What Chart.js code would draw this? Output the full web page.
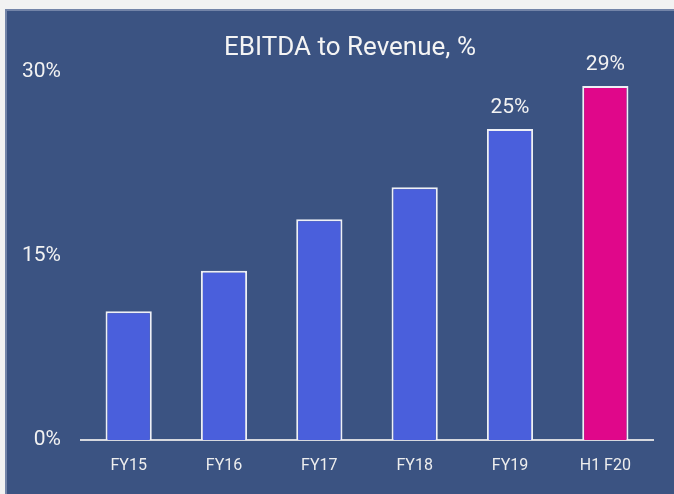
<!DOCTYPE html>
<html>
<head>
<meta charset="utf-8">
<script src="https://cdn.jsdelivr.net/npm/chart.js@4/dist/chart.umd.min.js"></script>
<style>
  html, body { margin: 0; padding: 0; background: #f2f2f2; width: 674px; height: 494px; overflow: hidden; }
  #panel { position: absolute; left: 5px; top: 9px; width: 720px; height: 520px; background: #3b5382; border-left: 2px solid #7384a8; border-top: 2px solid #7384a8; }
  #wrap { position: absolute; left: 0; top: 0; width: 686px; height: 483px; }
</style>
</head>
<body>
<div id="panel"><div id="wrap"><canvas id="c"></canvas></div></div>
<script>
const categories = ["FY15", "FY16", "FY17", "FY18", "FY19", "H1 F20"];
const ebitdaMargin = [10.5, 13.8, 18.0, 20.6, 25.35, 28.85];
const valueLabels = [null, null, null, null, "25%", "29%"];
const yTicks = [0, 15, 30];
const barColors = ["#4a5fdc", "#4a5fdc", "#4a5fdc", "#4a5fdc", "#4a5fdc", "#e0078a"];

const labelPlugin = {
  id: 'valueLabels',
  afterDatasetsDraw(chart) {
    const ctx = chart.ctx;
    const meta = chart.getDatasetMeta(0);
    ctx.save();
    ctx.font = '21px Roboto';
    ctx.fillStyle = '#f2f2f2';
    ctx.textAlign = 'center';
    ctx.textBaseline = 'alphabetic';
    meta.data.forEach((bar, i) => {
      if (valueLabels[i]) ctx.fillText(valueLabels[i], bar.x, bar.y - 16.5);
    });
    ctx.restore();
  }
};

new Chart(document.getElementById('c'), {
  type: 'bar',
  data: {
    labels: categories,
    datasets: [{
      data: ebitdaMargin,
      backgroundColor: barColors,
      borderColor: '#eef0f6',
      borderWidth: 2,
      barPercentage: 0.485,
      categoryPercentage: 1.0
    }]
  },
  options: {
    responsive: true,
    maintainAspectRatio: false,
    animation: false,
    layout: { padding: 0 },
    plugins: {
      legend: { display: false },
      tooltip: { enabled: false },
      title: {
        display: true,
        text: 'EBITDA to Revenue, %',
        color: '#f4f4f4',
        font: { family: 'Roboto', size: 26, weight: 'normal' },
        padding: { top: 21.4, bottom: 8.4 }
      }
    },
    scales: {
      x: {
        grid: { display: false, drawTicks: false },
        border: { display: true, color: '#d6d8de', width: 2 },
        ticks: { color: '#eeeeee', font: { family: 'Roboto', size: 16 }, padding: 16, maxRotation: 0 },
        afterFit: s => { s.height = 54; }
      },
      y: {
        min: 0, max: 30,
        afterBuildTicks: s => { s.ticks = yTicks.map(v => ({ value: v })); },
        grid: { display: false, drawTicks: false },
        border: { display: false },
        ticks: { color: '#f2f2f2', font: { family: 'Roboto', size: 21 }, padding: 20, callback: v => v + '%' },
        afterFit: s => { s.width = 74; }
      },
      yRight: {
        position: 'right',
        display: true,
        min: 0, max: 30,
        grid: { display: false, drawTicks: false },
        border: { display: false },
        ticks: { display: false },
        afterFit: s => { s.width = 40; }
      }
    }
  },
  plugins: [labelPlugin]
});
</script>
</body>
</html>
